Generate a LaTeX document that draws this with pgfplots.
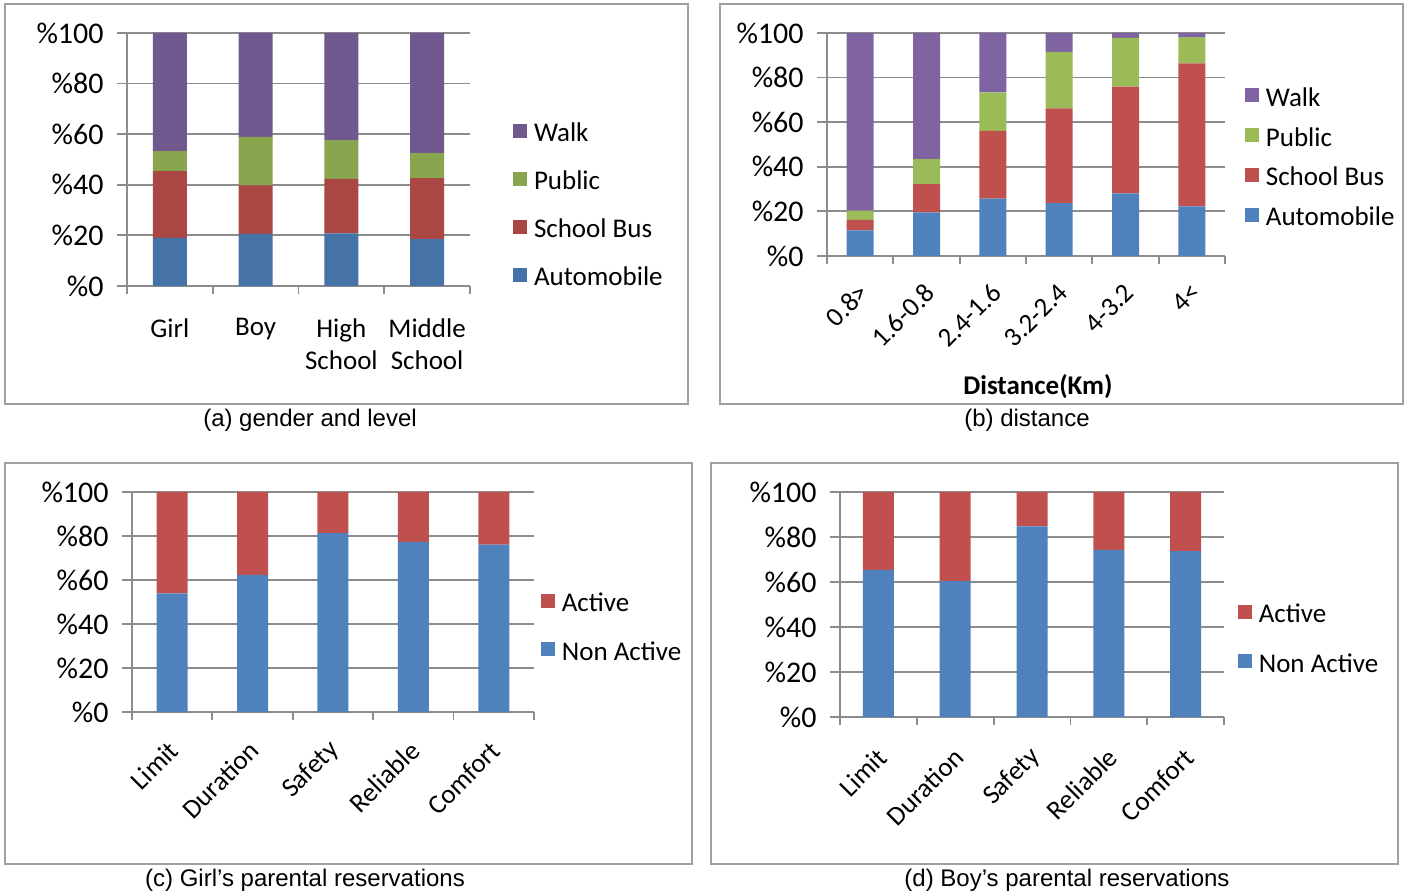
\documentclass[border=0pt]{standalone}
\usepackage{pgfplots}
\pgfplotsset{compat=1.18}
\usepackage{pgfplotstable}
\usepackage{fontspec}
\setmainfont{Carlito}
\newfontfamily\capfont{Liberation Sans}

% Excel 2007 colours
\definecolor{autoA}{HTML}{4572A7}
\definecolor{busA}{HTML}{AA4643}
\definecolor{pubA}{HTML}{89A54E}
\definecolor{walkA}{HTML}{71588F}
\definecolor{autoB}{HTML}{4F81BD}
\definecolor{busB}{HTML}{C0504D}
\definecolor{pubB}{HTML}{9BBB59}
\definecolor{walkB}{HTML}{8064A2}
\definecolor{gridgray}{HTML}{8C8C8C}
\definecolor{framegray}{HTML}{A0A0A0}

% (a) gender and level
\pgfplotstableread{
x   auto bus  public walk
0.5 19.0 26.4 7.9  46.7
1.5 20.6 19.2 19.1 41.1
2.5 20.8 21.5 15.4 42.3
3.5 18.5 24.1 9.9  47.5
}\levelTbl

% (b) distance
\pgfplotstableread{
x   auto bus  public walk
0.5 11.5 4.7  4.2  79.6
1.5 19.6 12.6 11.2 56.6
2.5 25.7 30.4 17.3 26.6
3.5 23.7 42.5 25.3 8.5
4.5 28.1 47.8 21.9 2.2
5.5 22.2 64.2 11.7 1.9
}\distTbl

% (c) girls
\pgfplotstableread{
x   nonactive active
0.5 53.9 46.1
1.5 62.3 37.7
2.5 81.3 18.7
3.5 77.3 22.7
4.5 76.1 23.9
}\girlTbl

% (d) boys
\pgfplotstableread{
x   nonactive active
0.5 65.4 34.6
1.5 60.4 39.6
2.5 84.7 15.3
3.5 74.3 25.7
4.5 73.7 26.3
}\boyTbl

\pgfplotsset{
  panel/.style={
    scale only axis, anchor=south west,
    ybar stacked, ymin=0, ymax=100,
    ytick={0,20,...,100},
    yticklabels={\%0,\%20,\%40,\%60,\%80,\%100},
    axis lines*=left,
    axis line style={draw=gridgray, line width=0.9pt},
    ymajorgrids, grid style={draw=gridgray, line width=0.9pt},
    tick align=outside, major tick length=5pt, minor tick length=4pt,
    tick style={draw=gridgray, line width=0.9pt},
    major x tick style={draw=none},
    yticklabel style={font=\fontsize{15}{18}\selectfont, inner sep=0pt, xshift=-6.5pt},
    legend cell align=left, reverse legend,
    legend style={draw=none, fill=none, inner sep=0pt, outer sep=0pt,
      anchor=west, font=\fontsize{13.5}{16}\selectfont,
      nodes={inner sep=0pt, text height=10pt, text depth=1pt},
      column sep=3.5pt},
    legend image code/.code={\fill[##1,draw=none] (0pt,-2.5pt) rectangle (7pt,4.5pt);},
  },
  rotlabels/.style 2 args={
    xticklabel style={font=\fontsize{13.5}{16}\selectfont, xshift=#1, yshift=#2,
      rotate=45, anchor=east, inner sep=0pt},
  }
}

\begin{document}
\begin{tikzpicture}
\path[use as bounding box] (0,0) rectangle (704.5pt,447.5pt);

% panel frames
\draw[framegray, line width=1pt] (2.5pt,245.5pt) rectangle (344pt,445.5pt);
\draw[framegray, line width=1pt] (360pt,245.5pt) rectangle (701.5pt,445.5pt);
\draw[framegray, line width=1pt] (2.5pt,15.5pt) rectangle (346pt,216pt);
\draw[framegray, line width=1pt] (355.5pt,15.5pt) rectangle (699pt,216pt);

% (a)
\begin{axis}[panel, at={(63.5pt,304.5pt)}, width=171.5pt, height=126.5pt,
  bar width=17pt, xmin=0, xmax=4,
  xtick={0.5,1.5,2.5,3.5},
  xticklabels={Girl,Boy,High\\School,Middle\\School},
  minor xtick={0,1,2,3,4},
  xticklabel style={font=\fontsize{13.5}{16}\selectfont, align=center, inner sep=0pt, yshift=-11pt},
  legend style={at={(1.1254,0.322)}, row sep=13pt},
]
\addplot[fill=autoA, draw=none] table[x=x, y=auto] {\levelTbl};
\addplot[fill=busA, draw=none] table[x=x, y=bus] {\levelTbl};
\addplot[fill=pubA, draw=none] table[x=x, y=public] {\levelTbl};
\addplot[fill=walkA, draw=none] table[x=x, y=walk] {\levelTbl};
\legend{Automobile,School Bus,Public,Walk}
\end{axis}

% (b)
\begin{axis}[panel, at={(413.5pt,319.5pt)}, width=199pt, height=111.5pt,
  bar width=13.5pt, xmin=0, xmax=6,
  xtick={0.5,1.5,2.5,3.5,4.5,5.5},
  xticklabels={0.8>,1.6-0.8,2.4-1.6,3.2-2.4,4-3.2,4<},
  minor xtick={0,1,2,3,4,5,6},
  rotlabels={2pt}{-11pt},
  xlabel={\textbf{Distance(Km)}},
  xlabel style={at={(axis description cs:0.53,-0.587)}, anchor=center, font=\fontsize{13.5}{16}\selectfont},
  legend style={at={(1.05,0.444)}, row sep=8.9pt},
]
\addplot[fill=autoB, draw=none] table[x=x, y=auto] {\distTbl};
\addplot[fill=busB, draw=none] table[x=x, y=bus] {\distTbl};
\addplot[fill=pubB, draw=none] table[x=x, y=public] {\distTbl};
\addplot[fill=walkB, draw=none] table[x=x, y=walk] {\distTbl};
\legend{Automobile,School Bus,Public,Walk}
\end{axis}

% (c)
\begin{axis}[panel, at={(66pt,91.5pt)}, width=201pt, height=110pt,
  bar width=15.5pt, xmin=0, xmax=5,
  xtick={0.5,1.5,2.5,3.5,4.5},
  xticklabels={Limit,Duration,Safety,Reliable,Comfort},
  minor xtick={0,1,2,3,4,5},
  rotlabels={1pt}{-12pt},
  legend style={at={(1.017,0.386)}, row sep=13.25pt},
]
\addplot[fill=autoB, draw=none] table[x=x, y=nonactive] {\girlTbl};
\addplot[fill=busB, draw=none] table[x=x, y=active] {\girlTbl};
\legend{Non Active,Active}
\end{axis}

% (d)
\begin{axis}[panel, at={(420pt,89pt)}, width=192pt, height=112.5pt,
  bar width=15.5pt, xmin=0, xmax=5,
  xtick={0.5,1.5,2.5,3.5,4.5},
  xticklabels={Limit,Duration,Safety,Reliable,Comfort},
  minor xtick={0,1,2,3,4,5},
  rotlabels={2pt}{-13pt},
  legend style={at={(1.036,0.349)}, row sep=13.75pt},
]
\addplot[fill=autoB, draw=none] table[x=x, y=nonactive] {\boyTbl};
\addplot[fill=busB, draw=none] table[x=x, y=active] {\boyTbl};
\legend{Non Active,Active}
\end{axis}

% captions
\node[font=\capfont\fontsize{12}{14}\selectfont] at (155pt,237.5pt) {(a) gender and level};
\node[font=\capfont\fontsize{12}{14}\selectfont] at (513.5pt,237.5pt) {(b) distance};
\node[font=\capfont\fontsize{12}{14}\selectfont] at (152.5pt,7.5pt) {(c) Girl’s parental reservations};
\node[font=\capfont\fontsize{12}{14}\selectfont] at (533.5pt,7.5pt) {(d) Boy’s parental reservations};
\end{tikzpicture}
\end{document}
